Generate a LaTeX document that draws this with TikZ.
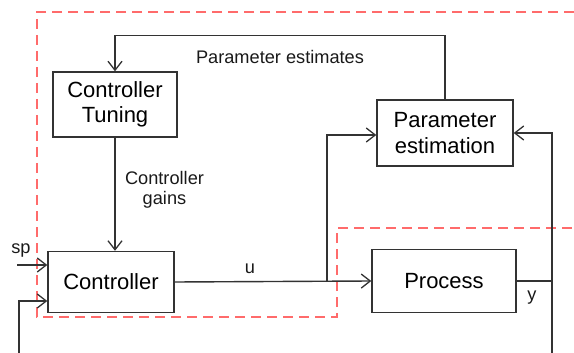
\documentclass[tikz,border=0pt]{standalone}
\usepackage{fontspec}
\setmainfont{Liberation Sans}
\usetikzlibrary{arrows.meta}
\definecolor{ln}{HTML}{333333}
\definecolor{dashred}{HTML}{FF6B6B}
\begin{document}
\begin{tikzpicture}[x=1pt,y=-1pt,
  blockbox/.style={draw=ln,line width=1.4pt,fill=white,inner sep=0pt,align=center,
    font=\fontsize{22}{25.5}\selectfont},
  lbl/.style={inner sep=0pt,align=center,text=black!90,font=\fontsize{18.2}{20.5}\selectfont},
  conn/.style={draw=ln,line width=1.4pt},
  arr/.style={conn,-{Straight Barb[length=9pt,width=14pt,line width=1.3pt]}},
  redline/.style={draw=dashred,line width=1.4pt,dash pattern=on 10pt off 6pt}]
\useasboundingbox (0,0) rectangle (574,353);
\clip (0,0) rectangle (574,353);
% dashed red region
\draw[redline] (574,12) -- (37,12) -- (37,317) -- (337,317) -- (337,228) -- (574,228);
% blocks
\node[blockbox,minimum width=124pt,minimum height=65pt] (ct) at (115,104.5) {Controller\\Tuning};
\node[blockbox,minimum width=136pt,minimum height=66pt] (pe) at (445,133) {Parameter\\estimation};
\node[blockbox,minimum width=126pt,minimum height=61pt] (ctrl) at (111,282) {Controller};
\node[blockbox,minimum width=144pt,minimum height=63pt] (proc) at (444,281) {Process};
% coordinates
\coordinate (spin) at (17,265);
\coordinate (fbin) at (19,353);
\coordinate (j) at (327,282);
\coordinate (yb) at (552,353);
% connectors
\draw[arr] (pe.north) -- ++(0,-64) -| (ct.north);
\draw[arr] (ct.south) -- (ct.south |- ctrl.north);
\draw[arr] (spin) -- (spin -| ctrl.west);
\draw[arr] (fbin) |- ([yshift=-19pt]ctrl.west);
\draw[arr] (ctrl.east) -- (proc.west);
\draw[arr] (j) |- ([yshift=-2pt]pe.west);
\draw[conn] (proc.east) -- (proc.east -| yb);
\draw[arr] (yb) |- (pe.east);
% labels
\node[lbl] (lpe) at (280,57) {Parameter estimates};
\node[lbl] (lcg) at (164.5,190) {Controller\\gains};
\node[lbl] (lu) at (250,269) {u};
\node[lbl] (ly) at (532,298) {y};
\node[lbl] (lsp) at (21,250) {sp};
\end{tikzpicture}
\end{document}
